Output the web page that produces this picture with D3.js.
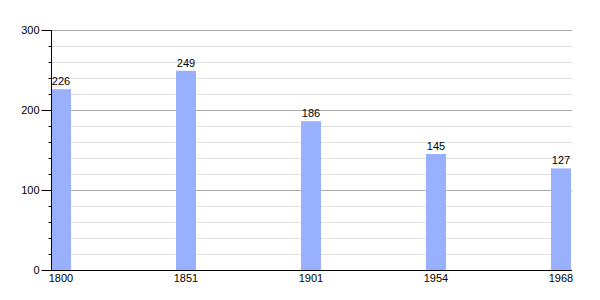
<!DOCTYPE html>
<html>
<head>
<meta charset="utf-8">
<script src="https://cdn.jsdelivr.net/npm/d3@7"></script>
<style>
  body { margin: 0; background: #fff; }
  text { font-family: "Liberation Sans", Arial, sans-serif; font-size: 11px; fill: #000; }
</style>
</head>
<body>
<svg id="chart" width="600" height="300"></svg>
<script>
// data
var years = ["1800", "1851", "1901", "1954", "1968"];
var population = [226, 249, 186, 145, 127];
var yTicks = [0, 100, 200, 300];

var svg = d3.select("#chart");
// plot edges (not "top": that name is taken by window.top)
var plotL = 51, plotR = 572, plotT = 30, plotB = 270;

var x = d3.scalePoint().domain(years).range([61, 561]);
var y = d3.scaleLinear().domain([0, 300]).range([plotB, plotT]);
var barW = 20;

// minor grid every 20, major every 100
svg.append("g").selectAll("line")
    .data(d3.range(20, 301, 20).filter(function(v){ return v % 100 != 0; }))
  .enter().append("line")
    .attr("x1", plotL).attr("x2", plotR)
    .attr("y1", function(d){ return y(d) + 0.5; })
    .attr("y2", function(d){ return y(d) + 0.5; })
    .attr("stroke", "#e0e0e0");

svg.append("g").selectAll("line")
    .data(yTicks.filter(function(v){ return v > 0; }))
  .enter().append("line")
    .attr("x1", plotL).attr("x2", plotR)
    .attr("y1", function(d){ return y(d) + 0.5; })
    .attr("y2", function(d){ return y(d) + 0.5; })
    .attr("stroke", "#aaaaaa");

// bars
svg.append("g").selectAll("rect")
    .data(population)
  .enter().append("rect")
    .attr("x", function(d, i){ return x(years[i]) - barW / 2; })
    .attr("y", function(d){ return y(d); })
    .attr("width", barW)
    .attr("height", function(d){ return y(0) - y(d); })
    .attr("fill", "#99b0ff");

// value labels
svg.append("g").selectAll("text")
    .data(population)
  .enter().append("text")
    .attr("x", function(d, i){ return x(years[i]); })
    .attr("y", function(d){ return y(d) - 4; })
    .attr("text-anchor", "middle")
    .text(function(d){ return d; });

// y axis with minor ticks
var yAxis = d3.axisLeft(y).tickValues(d3.range(0, 301, 20)).tickSize(4)
    .tickFormat(function(d){ return d % 100 == 0 ? d : ""; });
var gy = svg.append("g").attr("transform", "translate(" + (plotL + 0.5) + ",0)").call(yAxis);
gy.select(".domain").attr("d", "M0," + plotT + "V" + plotB);
gy.selectAll(".tick line").attr("stroke", "#000")
    .attr("x2", function(d){ return d % 100 == 0 ? -10 : -3; });
gy.selectAll(".tick text").attr("x", -12).attr("dy", "0.35em")
    .style("font-family", "Liberation Sans, Arial, sans-serif").style("font-size", "11px");

// x axis line and labels
svg.append("line")
    .attr("x1", plotL).attr("x2", plotR)
    .attr("y1", plotB + 0.5).attr("y2", plotB + 0.5)
    .attr("stroke", "#000");

svg.append("g").selectAll("text")
    .data(years)
  .enter().append("text")
    .attr("x", function(d){ return x(d); })
    .attr("y", plotB + 12)
    .attr("text-anchor", "middle")
    .text(function(d){ return d; });
</script>
</body>
</html>
